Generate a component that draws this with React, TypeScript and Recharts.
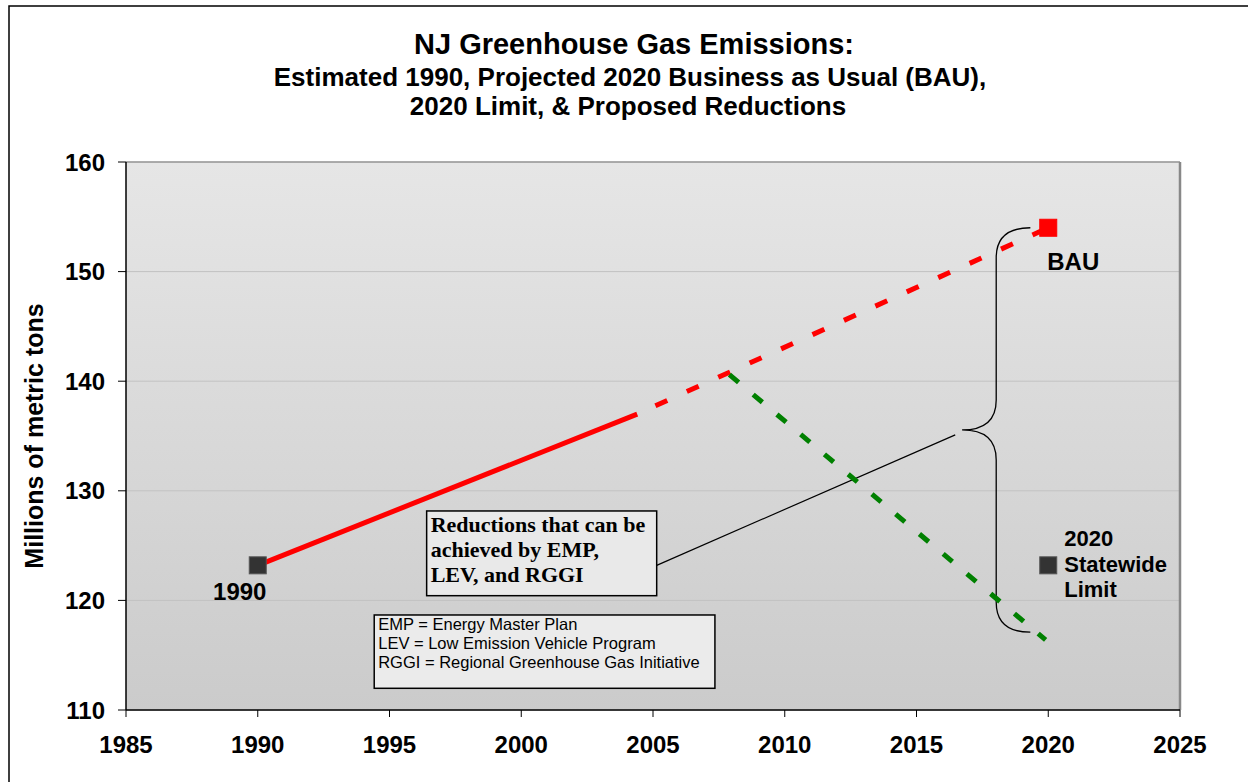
import { ComposedChart, Line, Scatter, XAxis, YAxis, CartesianGrid, ReferenceArea, ReferenceLine } from 'recharts'

const SANS = '"Liberation Sans", Arial, sans-serif'
const SERIF = '"Liberation Serif", "Times New Roman", serif'

const titleLines = [
  'NJ Greenhouse Gas Emissions:',
  'Estimated 1990, Projected 2020 Business as Usual (BAU),',
  '2020 Limit, & Proposed Reductions',
]

const xTicks = [1985, 1990, 1995, 2000, 2005, 2010, 2015, 2020, 2025]
const yTicks = [110, 120, 130, 140, 150, 160]

// measured 1990 -> ~2004, then projected to 2020
const historicYears = [1990, 2004.4]
const historicValues = [123.2, 137.0]
const bauYears = [2004.4, 2020]
const bauValues = [137.0, 154.0]
const reductionYears = [2007.9, 2019.9]
const reductionValues = [140.6, 116.4]

const markerYears = [1990, 2020]
const markerValues = [123.2, 123.2]
const markerLabels = ['1990', '2020\nStatewide\nLimit']
const bauMarkerYears = [2020]
const bauMarkerValues = [154.0]
const bauMarkerLabels = ['BAU']

const reductionsNote = ['Reductions that can be', 'achieved by EMP,', 'LEV, and RGGI']
const acronymNote = [
  'EMP = Energy Master Plan',
  'LEV = Low Emission Vehicle Program',
  'RGGI = Regional Greenhouse Gas Initiative',
]

const toPoints = (xs: number[], ys: number[], labels?: string[]) =>
  xs.map((year, i) => ({ year, value: ys[i], label: labels ? labels[i] : '' }))

const historic = toPoints(historicYears, historicValues)
const bau = toPoints(bauYears, bauValues)
const reduction = toPoints(reductionYears, reductionValues)
const markers = toPoints(markerYears, markerValues, markerLabels)
const bauMarker = toPoints(bauMarkerYears, bauMarkerValues, bauMarkerLabels)

// label placement relative to the marker centre
const labelPlace: Record<string, { dx: number; dy: number; anchor: string; size: number }> = {
  '1990': { dx: -18, dy: 35, anchor: 'middle', size: 24 },
  BAU: { dx: 25, dy: 42, anchor: 'middle', size: 24 },
  '2020\nStatewide\nLimit': { dx: 16, dy: -19, anchor: 'start', size: 22 },
}

function SquareMarker(props: any) {
  const { cx, cy, payload, fill } = props
  const s = 17
  const place = labelPlace[payload.label]
  const lines = payload.label.split('\n')
  return (
    <g>
      <rect x={cx - s / 2} y={cy - s / 2} width={s} height={s} fill={fill} stroke={fill === '#333333' ? '#555' : fill} strokeWidth={1} />
      {place && (
        <text
          x={cx + place.dx}
          y={cy + place.dy}
          textAnchor={place.anchor as any}
          fontFamily={SANS}
          fontWeight="bold"
          fontSize={place.size}
          fill="#000"
        >
          {lines.map((l: string, i: number) => (
            <tspan key={i} x={cx + place.dx} dy={i === 0 ? 0 : 25.5}>
              {l}
            </tspan>
          ))}
        </text>
      )}
    </g>
  )
}

function Brace(props: any) {
  const { x, y, width, height } = props
  const top = Math.min(y, y + height)
  const h = Math.abs(height)
  const w = Math.abs(width)
  const sx = x + w / 2
  const my = top + h / 2
  const r = 30
  const d = `M${x + w},${top} Q${sx},${top} ${sx},${top + r} L${sx},${my - r} Q${sx},${my} ${x},${my} Q${sx},${my} ${sx},${my + r} L${sx},${top + h - r} Q${sx},${top + h} ${x + w},${top + h}`
  return <path d={d} fill="none" stroke="#000" strokeWidth={1.3} />
}

function NoteBox(props: any) {
  const { x, y, width, height, lines, font, size, weight, first, step, fill } = props
  const top = Math.min(y, y + height)
  return (
    <g>
      <rect x={x} y={top} width={Math.abs(width)} height={Math.abs(height)} fill={fill} stroke="#000" strokeWidth={1.5} />
      <text fontFamily={font} fontSize={size} fontWeight={weight} fill="#000">
        {lines.map((l: string, i: number) => (
          <tspan key={i} x={x + 4} y={top + first + i * step}>
            {l}
          </tspan>
        ))}
      </text>
    </g>
  )
}

const tickStyle = { fontSize: 24, fontWeight: 'bold', fill: '#000', fontFamily: SANS }

export default function App() {
  return (
    <div style={{ position: 'fixed', left: 0, top: 0, width: 1248, height: 782, background: '#fff', overflow: 'hidden' }}>
      <svg width={1248} height={782} style={{ position: 'absolute', left: 0, top: 0 }}>
        <path d="M9,782 L9,6 L1248,6" fill="none" stroke="#000" strokeWidth={1.5} />
        <text x={634} y={54} textAnchor="middle" fontFamily={SANS} fontWeight="bold" fontSize={29}>
          {titleLines[0]}
        </text>
        <text x={630} y={86} textAnchor="middle" fontFamily={SANS} fontWeight="bold" fontSize={26}>
          {titleLines[1]}
        </text>
        <text x={628} y={115} textAnchor="middle" fontFamily={SANS} fontWeight="bold" fontSize={26}>
          {titleLines[2]}
        </text>
      </svg>
      <div style={{ position: 'absolute', left: 0, top: 0 }}>
        <ComposedChart width={1248} height={782} margin={{ top: 162, right: 68, bottom: 42, left: 66 }}>
          <defs>
            <linearGradient id="plotBg" x1="0" y1="0" x2="0" y2="1">
              <stop offset="0%" stopColor="#e6e6e6" />
              <stop offset="100%" stopColor="#cbcbcb" />
            </linearGradient>
          </defs>
          <CartesianGrid vertical={false} stroke="#c2c2c2" fill="url(#plotBg)" fillOpacity={1} />
          <XAxis
            type="number"
            dataKey="year"
            domain={[1985, 2025]}
            ticks={xTicks}
            interval={0}
            height={30}
            tick={tickStyle}
            tickSize={7}
            tickMargin={19}
            axisLine={{ stroke: '#000', strokeWidth: 1.5 }}
            tickLine={{ stroke: '#000' }}
          />
          <YAxis
            type="number"
            domain={[110, 160]}
            ticks={yTicks}
            interval={0}
            width={60}
            tick={tickStyle}
            tickSize={8}
            tickMargin={13}
            axisLine={{ stroke: '#000', strokeWidth: 1.5 }}
            tickLine={{ stroke: '#000' }}
            label={(p: any) => {
              const vb = p.viewBox
              const cx = vb.x - 23
              const cy = vb.y + vb.height / 2
              return (
                <text
                  x={cx}
                  y={cy}
                  transform={`rotate(-90, ${cx}, ${cy})`}
                  textAnchor="middle"
                  fontFamily={SANS}
                  fontWeight="bold"
                  fontSize={25}
                  fill="#000"
                >
                  Millions of metric tons
                </text>
              )
            }}
          />
          <ReferenceLine y={160} stroke="#9a9a9a" strokeWidth={1.5} />
          <ReferenceLine x={2025} stroke="#888" strokeWidth={2.5} />
          <ReferenceArea
            x1={1996.41}
            x2={2005.14}
            y1={120.43}
            y2={128.16}
            shape={(p: any) => (
              <NoteBox {...p} lines={reductionsNote} font={SERIF} size={22} weight="bold" first={21} step={25} fill="#e9e9e9" />
            )}
          />
          <ReferenceArea
            x1={1994.42}
            x2={2007.35}
            y1={111.98}
            y2={118.67}
            shape={(p: any) => (
              <NoteBox {...p} lines={acronymNote} font={SANS} size={16.5} weight="normal" first={15} step={19} fill="#ebebeb" />
            )}
          />
          <ReferenceLine
            segment={[
              { x: 2005.14, y: 123.2 },
              { x: 2016.47, y: 135.1 },
            ]}
            stroke="#000"
            strokeWidth={1.2}
          />
          <Line data={historic} dataKey="value" stroke="#ff0000" strokeWidth={5} dot={false} activeDot={false} isAnimationActive={false} />
          <Line data={bau} dataKey="value" stroke="#ff0000" strokeWidth={5} strokeDasharray="0 20 13 1.5" dot={false} activeDot={false} isAnimationActive={false} />
          <Line data={reduction} dataKey="value" stroke="#008000" strokeWidth={5} strokeDasharray="12 19" dot={false} activeDot={false} isAnimationActive={false} />
          <ReferenceArea x1={2016.73} x2={2019.32} y1={117.1} y2={154.0} shape={(p: any) => <Brace {...p} />} />
          <Scatter data={markers} dataKey="value" fill="#333333" shape={(p: any) => <SquareMarker {...p} fill="#333333" />} isAnimationActive={false} />
          <Scatter data={bauMarker} dataKey="value" fill="#ff0000" shape={(p: any) => <SquareMarker {...p} fill="#ff0000" />} isAnimationActive={false} />
        </ComposedChart>
      </div>
    </div>
  )
}
